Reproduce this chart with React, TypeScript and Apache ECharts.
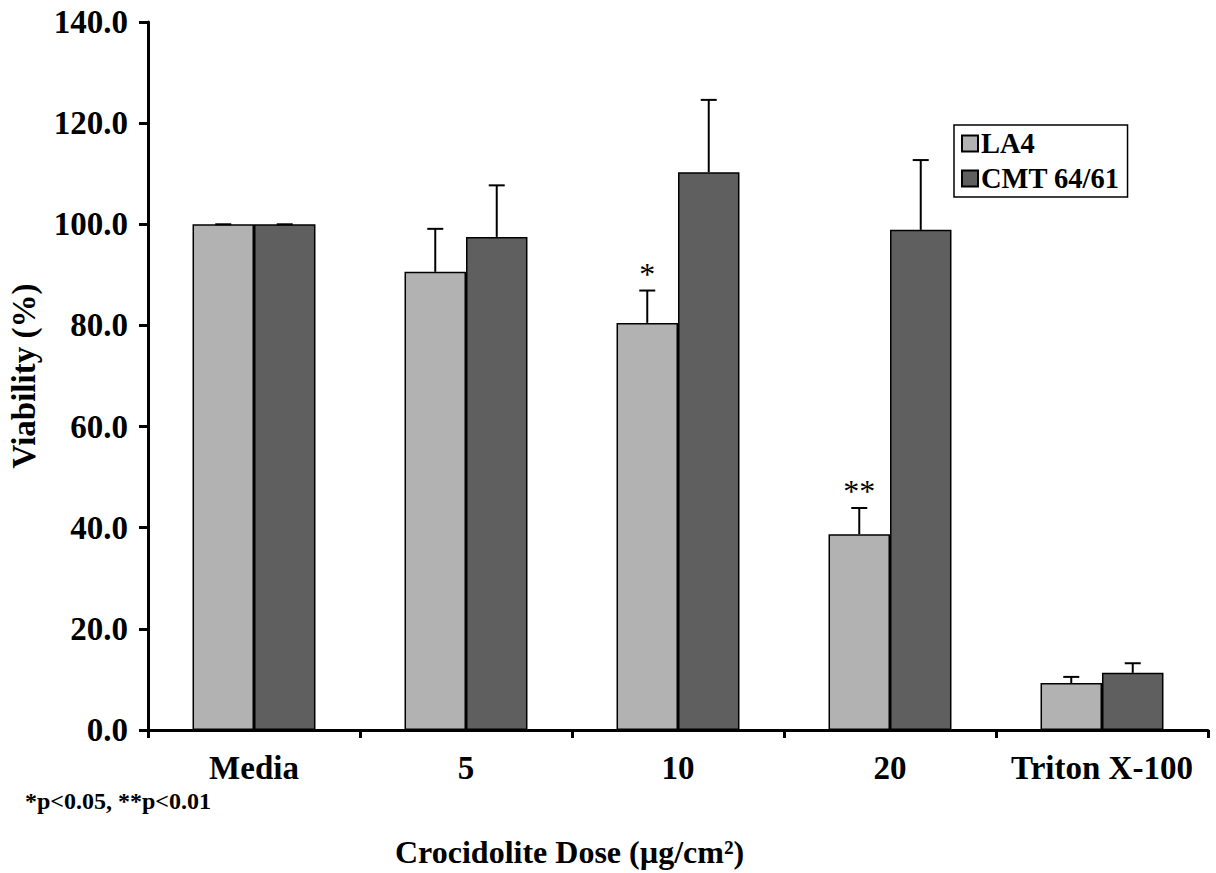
import React, { useEffect, useRef } from "react";
import * as echarts from "echarts";

const categories = ["Media", "5", "10", "20", "Triton X-100"];
const seriesNames = ["LA4", "CMT 64/61"];
const la4Values = [100.0, 90.6, 80.5, 38.7, 9.3];
const la4Errors = [0.0, 8.5, 6.4, 5.2, 1.2];
const la4Stars = ["", "", "*", "**", ""];
const cmtValues = [100.0, 97.5, 110.3, 98.9, 11.3];
const cmtErrors = [0.0, 10.2, 14.3, 13.8, 1.9];
const cmtStars = ["", "", "", "", ""];
const yTicks = [0, 20, 40, 60, 80, 100, 120, 140];
const footnote = "*p<0.05, **p<0.01";
const xTitle = "Crocidolite Dose (µg/cm²)";
const yTitle = "Viability (%)";

const FONT = "'Liberation Serif', 'Times New Roman', serif";
const colors = ["#b2b2b2", "#5f5f5f"];
const CAT_GAP = 0.42;

export default function App() {
  const ref = useRef<HTMLDivElement>(null);
  useEffect(() => {
    if (!ref.current) return;
    const chart = echarts.init(ref.current, null, { renderer: "svg" });

    const errData: any[] = [];
    categories.forEach((_, i) => {
      errData.push([i, la4Values[i], la4Errors[i], 0, la4Stars[i]]);
      errData.push([i, cmtValues[i], cmtErrors[i], 1, cmtStars[i]]);
    });

    const option: any = {
      animation: false,
      backgroundColor: "#ffffff",
      grid: { left: 148, right: 8, top: 22, bottom: 143, containLabel: false, outerBoundsMode: "none" },
      legend: {
        data: seriesNames,
        orient: "vertical",
        left: 954,
        top: 125,
        padding: [4, 8, 4, 7],
        itemGap: 6,
        itemWidth: 16,
        itemHeight: 16,
        borderColor: "#000",
        borderWidth: 1.5,
        backgroundColor: "#fff",
        icon: "rect",
        textStyle: { fontFamily: FONT, fontSize: 28.5, fontWeight: "bold", color: "#000", padding: [0, 0, 0, -2] },
      },
      xAxis: {
        type: "category",
        data: categories,
        boundaryGap: true,
        axisLine: { lineStyle: { color: "#000", width: 3 } },
        axisTick: { show: true, length: 8, lineStyle: { color: "#000", width: 3 } },
        axisLabel: { fontFamily: FONT, fontSize: 33, fontWeight: "bold", color: "#000", margin: 21, interval: 0 },
        splitLine: { show: false },
      },
      yAxis: {
        type: "value",
        min: 0,
        max: 140,
        interval: 20,
        name: yTitle,
        nameLocation: "middle",
        nameGap: 108,
        nameTextStyle: { fontFamily: FONT, fontSize: 33, fontWeight: "bold", color: "#000" },
        axisLine: { show: true, lineStyle: { color: "#000", width: 3 } },
        axisTick: { show: true, length: 9, lineStyle: { color: "#000", width: 3 } },
        axisLabel: {
          fontFamily: FONT,
          fontSize: 33,
          fontWeight: "bold",
          color: "#000",
          margin: 20,
          formatter: (v: number) => (yTicks.includes(v) ? v.toFixed(1) : ""),
        },
        splitLine: { show: false },
      },
      series: [
        {
          name: seriesNames[0],
          type: "bar",
          data: la4Values,
          barGap: "0%",
          barCategoryGap: CAT_GAP * 100 + "%",
          itemStyle: { color: colors[0], borderColor: "#000", borderWidth: 1.5 },
          z: 2,
        },
        {
          name: seriesNames[1],
          type: "bar",
          data: cmtValues,
          barGap: "0%",
          barCategoryGap: CAT_GAP * 100 + "%",
          itemStyle: { color: colors[1], borderColor: "#000", borderWidth: 1.5 },
          z: 2,
        },
        {
          type: "custom",
          data: errData,
          z: 5,
          silent: true,
          encode: { x: 0, y: 1 },
          renderItem: (params: any, api: any) => {
            const cat = api.value(0);
            const val = api.value(1);
            const err = api.value(2);
            const s = api.value(3);
            const star = errData[params.dataIndex][4];
            const band = api.size([1, 0])[0];
            const barW = (band * (1 - CAT_GAP)) / 2;
            const center = api.coord([cat, 0])[0];
            const x = center + (s === 0 ? -barW / 2 : barW / 2);
            const yBase = api.coord([cat, val])[1];
            const yTop = api.coord([cat, val + err])[1];
            const children: any[] = [
              { type: "line", shape: { x1: x, y1: yBase, x2: x, y2: yTop }, style: { stroke: "#000", lineWidth: 2 } },
              { type: "line", shape: { x1: x - 8, y1: yTop, x2: x + 8, y2: yTop }, style: { stroke: "#000", lineWidth: 2 } },
            ];
            if (star) {
              children.push({
                type: "text",
                style: {
                  text: star,
                  x: x,
                  y: yTop - 1,
                  align: "center",
                  verticalAlign: "bottom",
                  fontFamily: FONT,
                  fontSize: 32,
                  fill: "#000",
                },
              });
            }
            return { type: "group", children };
          },
        },
      ],
      graphic: [
        {
          type: "text",
          left: 25,
          top: 789,
          style: { text: footnote, fontFamily: FONT, fontSize: 24, fontWeight: "bold", fill: "#000" },
        },
        {
          type: "text",
          left: 395,
          top: 836,
          style: { text: xTitle, fontFamily: FONT, fontSize: 32, fontWeight: "bold", fill: "#000" },
        },
      ],
    };
    chart.setOption(option);
    return () => chart.dispose();
  }, []);
  return <div ref={ref} style={{ width: 1216, height: 873, position: "absolute", left: 0, top: 0 }} />;
}
